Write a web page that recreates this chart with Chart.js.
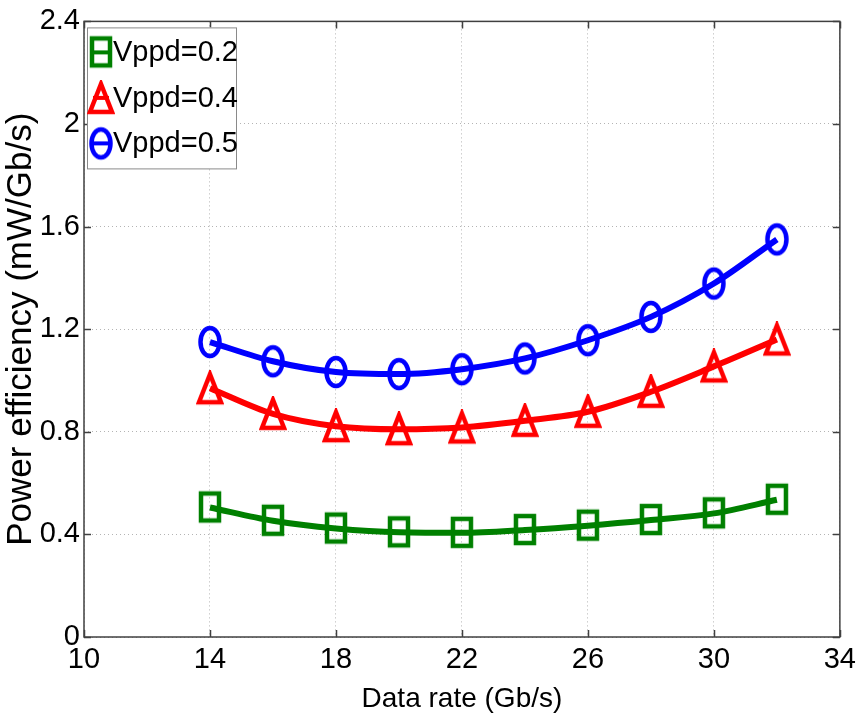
<!DOCTYPE html>
<html>
<head>
<meta charset="utf-8">
<script src="https://cdn.jsdelivr.net/npm/chart.js@4.4.1/dist/chart.umd.min.js"></script>
<style>
  html, body { margin: 0; padding: 0; background: #fff; }
  canvas { display: block; }
</style>
</head>
<body>
<canvas id="eff" width="862" height="718"></canvas>
<script>
// data rates (Gb/s)
const rates = [14, 16, 18, 20, 22, 24, 26, 28, 30, 32];
// power efficiency (mW/Gb/s)
const vppd02 = [0.505, 0.453, 0.423, 0.408, 0.406, 0.417, 0.434, 0.456, 0.482, 0.535];
const vppd04 = [0.97, 0.87, 0.822, 0.81, 0.817, 0.843, 0.878, 0.956, 1.055, 1.16];
const vppd05 = [1.15, 1.075, 1.033, 1.025, 1.044, 1.086, 1.157, 1.248, 1.378, 1.55];
const seriesLabels = ['Vppd=0.2', 'Vppd=0.4', 'Vppd=0.5'];

const xTicks = [10, 14, 18, 22, 26, 30, 34];
const yTicks = [0, 0.4, 0.8, 1.2, 1.6, 2, 2.4];

const sans = '"Liberation Sans", Arial, sans-serif';

// marker images (MATLAB style, a bit taller than wide)
function marker(kind, color) {
  const c = document.createElement('canvas');
  c.width = 28; c.height = 36;
  const g = c.getContext('2d');
  g.strokeStyle = color;
  g.lineWidth = 4.5;
  g.lineJoin = 'miter';
  if (kind === 'square') {
    g.strokeRect(5, 4, 18, 27);
  } else if (kind === 'triangle') {
    g.beginPath();
    g.moveTo(14, 4); g.lineTo(25, 32); g.lineTo(3, 32); g.closePath();
    g.stroke();
  } else {
    g.beginPath();
    g.ellipse(14, 18, 9.5, 14, 0, 0, Math.PI * 2);
    g.stroke();
  }
  return c;
}

const green = '#008000', red = '#ff0000', blue = '#0000ff';
const mSquare = marker('square', green);
const mTri = marker('triangle', red);
const mCirc = marker('circle', blue);

const toXY = ys => ys.map((y, i) => ({ x: rates[i], y: y }));

const mkSet = (label, ys, color, img) => ({
  label: label,
  data: toXY(ys),
  borderColor: color,
  backgroundColor: color,
  borderWidth: 6,
  pointStyle: img,
  pointRadius: 14,
  pointHoverRadius: 14,
  cubicInterpolationMode: 'monotone',
  fill: false
});

// frame, inner tick marks and boxed legend drawn after the chart
const matlabBox = {
  id: 'matlabBox',
  afterDatasetsDraw(chart) {
    const { ctx, chartArea: a, scales } = chart;
    ctx.save();
    ctx.strokeStyle = '#404040';
    ctx.lineWidth = 1.5;
    ctx.strokeRect(a.left, a.top, a.right - a.left, a.bottom - a.top);
    ctx.beginPath();
    xTicks.forEach(v => {
      const px = Math.round(scales.x.getPixelForValue(v)) + 0.5;
      ctx.moveTo(px, a.bottom); ctx.lineTo(px, a.bottom - 7);
      ctx.moveTo(px, a.top); ctx.lineTo(px, a.top + 7);
    });
    yTicks.forEach(v => {
      const py = Math.round(scales.y.getPixelForValue(v)) + 0.5;
      ctx.moveTo(a.left, py); ctx.lineTo(a.left + 7, py);
      ctx.moveTo(a.right, py); ctx.lineTo(a.right - 7, py);
    });
    ctx.stroke();

    // legend
    const lx = a.left + 3, ly = a.top + 6, lw = 149, lh = 141;
    ctx.fillStyle = '#fff';
    ctx.fillRect(lx, ly, lw, lh);
    ctx.strokeStyle = '#8a8a8a';
    ctx.lineWidth = 1;
    ctx.strokeRect(lx + 0.5, ly + 0.5, lw, lh);
    const imgs = [mSquare, mTri, mCirc];
    chart.data.datasets.forEach((ds, i) => {
      const cy = ly + 25 + i * 45.5;
      const mx = lx + 14;
      ctx.strokeStyle = ds.borderColor;
      ctx.lineWidth = 4;
      ctx.beginPath();
      ctx.moveTo(mx - 8, cy); ctx.lineTo(mx + 8, cy);
      ctx.stroke();
      ctx.drawImage(imgs[i], mx - 14, cy - 18);
      ctx.fillStyle = '#000';
      ctx.font = '29px ' + sans;
      ctx.textBaseline = 'middle';
      ctx.textAlign = 'left';
      ctx.fillText(ds.label, lx + 26, cy + 1);
    });
    ctx.restore();
  }
};

new Chart(document.getElementById('eff'), {
  type: 'line',
  data: {
    datasets: [
      mkSet(seriesLabels[0], vppd02, green, mSquare),
      mkSet(seriesLabels[1], vppd04, red, mTri),
      mkSet(seriesLabels[2], vppd05, blue, mCirc)
    ]
  },
  options: {
    responsive: false,
    devicePixelRatio: 1,
    animation: false,
    layout: { padding: { top: 21, right: 16, left: 0, bottom: 0 } },
    plugins: { legend: { display: false }, tooltip: { enabled: false } },
    scales: {
      x: {
        type: 'linear',
        min: 10, max: 34,
        afterBuildTicks: axis => { axis.ticks = xTicks.map(v => ({ value: v })); },
        afterFit: axis => { axis.height = 81; },
        grid: { color: '#b4b4b4', drawTicks: false, lineWidth: 1 },
        border: { display: false, dash: [1, 3] },
        ticks: {
          color: '#000',
          padding: 6,
          maxRotation: 0,
          font: { family: sans, size: 29 },
          callback: v => String(v)
        },
        title: {
          display: true,
          text: 'Data rate (Gb/s)',
          color: '#000',
          font: { family: sans, size: 28 },
          padding: { top: 0, bottom: 2 }
        }
      },
      y: {
        min: 0, max: 2.4,
        afterBuildTicks: axis => { axis.ticks = yTicks.map(v => ({ value: v })); },
        afterFit: axis => { axis.width = 84; },
        grid: { color: '#b4b4b4', drawTicks: false, lineWidth: 1 },
        border: { display: false, dash: [1, 3] },
        ticks: {
          color: '#000',
          padding: 4,
          font: { family: sans, size: 29 },
          callback: v => String(v)
        },
        title: {
          display: true,
          text: 'Power efficiency (mW/Gb/s)',
          color: '#000',
          font: { family: sans, size: 35 },
          padding: { top: 0, bottom: 0 }
        }
      }
    }
  },
  plugins: [matlabBox]
});
</script>
</body>
</html>
